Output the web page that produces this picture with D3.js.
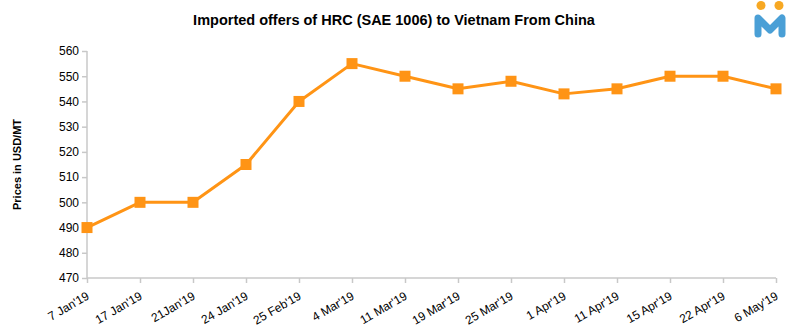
<!DOCTYPE html>
<html>
<head>
<meta charset="utf-8">
<script src="https://cdn.jsdelivr.net/npm/d3@7/dist/d3.min.js"></script>
<style>
  html, body { margin: 0; padding: 0; background: #fff; }
  svg { display: block; font-family: "Liberation Sans", Arial, sans-serif; }
</style>
</head>
<body>
<svg id="chart" width="788" height="332"></svg>
<script>
// Offer dates and prices (USD/MT)
const dates = ["7 Jan'19", "17 Jan'19", "21Jan'19", "24 Jan'19", "25 Feb'19", "4 Mar'19",
  "11 Mar'19", "19 Mar'19", "25 Mar'19", "1 Apr'19", "11 Apr'19", "15 Apr'19", "22 Apr'19", "6 May'19"];
const prices = [490, 500, 500, 515, 540, 555, 550, 545, 548, 543, 545, 550, 550, 545];
const yTicks = [470, 480, 490, 500, 510, 520, 530, 540, 550, 560];

const svg = d3.select("#chart");
const margin = { left: 87, right: 12, top: 51, bottom: 54 };
const W = 788, H = 332;

const x = d3.scalePoint().domain(dates).range([margin.left, W - margin.right]);
const y = d3.scaleLinear().domain([470, 560]).range([H - margin.bottom, margin.top]);

// Title
svg.append("text")
  .attr("x", 394).attr("y", 25)
  .attr("text-anchor", "middle")
  .attr("font-size", 14.5).attr("font-weight", "bold")
  .attr("fill", "#000")
  .text("Imported offers of HRC (SAE 1006) to Vietnam From China");

// Y axis
const yAxis = svg.append("g")
  .attr("transform", `translate(${margin.left},0)`)
  .call(d3.axisLeft(y).tickValues(yTicks).tickSize(5).tickPadding(3).tickFormat(d3.format("d")));
yAxis.selectAll("path, line").attr("stroke", "#c8c8c8").attr("stroke-width", 1.5);
yAxis.select(".domain").attr("d", `M0,${y(470)}V${y(560)}`);
yAxis.selectAll("text").attr("font-size", 12).attr("fill", "#000").attr("font-family", "Liberation Sans, Arial, sans-serif");

// X axis
const xAxis = svg.append("g")
  .attr("transform", `translate(0,${y(470)})`)
  .call(d3.axisBottom(x).tickSize(5).tickPadding(4));
xAxis.selectAll("path, line").attr("stroke", "#c8c8c8").attr("stroke-width", 1.5);
xAxis.select(".domain").attr("d", `M${margin.left},0H${W - margin.right}`);
xAxis.selectAll("text")
  .attr("font-size", 12).attr("fill", "#000").attr("font-family", "Liberation Sans, Arial, sans-serif")
  .attr("text-anchor", "end")
  .attr("dy", "0.35em")
  .attr("transform", "translate(-4,9) rotate(-30)");

// Y axis title
svg.append("text")
  .attr("transform", `translate(21,${(y(470) + y(560)) / 2}) rotate(-90)`)
  .attr("text-anchor", "middle")
  .attr("font-size", 11).attr("font-weight", "bold")
  .text("Prices in USD/MT");

// Line
const color = "#ff9415";
svg.append("path")
  .datum(prices)
  .attr("fill", "none")
  .attr("stroke", color)
  .attr("stroke-width", 3)
  .attr("stroke-linejoin", "round")
  .attr("d", d3.line().x((d, i) => x(dates[i])).y(d => y(d)));

// Square markers
const s = 11;
svg.selectAll("rect.pt")
  .data(prices)
  .join("rect")
  .attr("class", "pt")
  .attr("x", (d, i) => x(dates[i]) - s / 2)
  .attr("y", d => y(d) - s / 2)
  .attr("width", s).attr("height", s)
  .attr("fill", color);

// Brand mark
const logo = svg.append("g");
logo.append("circle").attr("cx", 761).attr("cy", 5.5).attr("r", 4.5).attr("fill", "#f7a823");
logo.append("circle").attr("cx", 779).attr("cy", 5.5).attr("r", 4.5).attr("fill", "#f7a823");
logo.append("path")
  .attr("d", "M758,34V18L770,30L782,18V34")
  .attr("fill", "none")
  .attr("stroke", "#4a9fd6")
  .attr("stroke-width", 7)
  .attr("stroke-linecap", "round")
  .attr("stroke-linejoin", "round");
</script>
</body>
</html>
